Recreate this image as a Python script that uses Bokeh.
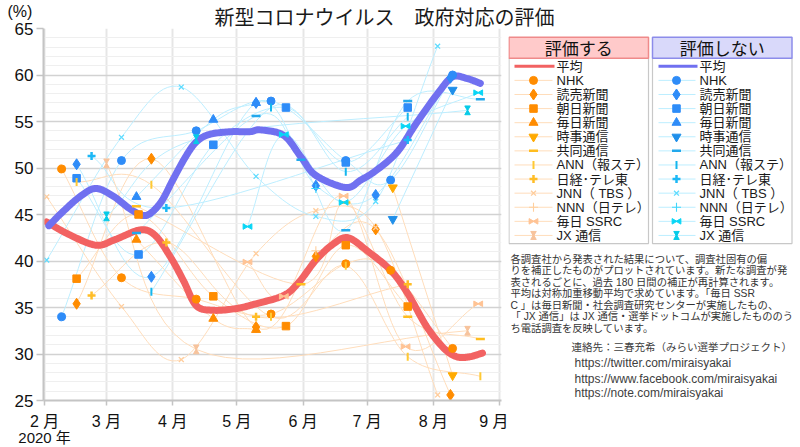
import numpy as np
import pandas as pd
from math import pi
from bokeh.plotting import figure
from bokeh.layouts import row, column
from bokeh.models import Range1d, FixedTicker, LinearAxis
from bokeh.core.properties import value
from bokeh.embed import file_html
from bokeh.resources import INLINE

# ------------------------------------------------------------------ data
month_ticks = ["2/1", "3/1", "4/1", "5/1", "6/1", "7/1", "8/1", "9/1"]
month_labels = ["2 月", "3 月", "4 月", "5 月", "6 月", "7 月", "8 月", "9 月"]
year_label = "2020 年"
y_ticks = [25, 30, 35, 40, 45, 50, 55, 60, 65]

avg_yes_dates = ["2/2", "2/12", "2/25", "3/5", "3/17", "3/24", "3/31", "4/6", "4/12", "4/20",
                 "5/1", "5/10", "5/23", "5/30", "6/7", "6/15", "6/22", "7/1", "7/12", "7/20",
                 "7/29", "8/6", "8/12", "8/18", "8/24"]
avg_yes = [44.2, 42.9, 41.7, 42.3, 43.35, 42.7, 40.4, 37.9, 35.2, 34.7,
           34.9, 35.4, 36.3, 37.7, 40.1, 41.8, 42.5, 41.1, 39.0, 36.5,
           32.9, 30.6, 29.7, 29.7, 30.1]
avg_no_dates = ["2/3", "2/10", "2/18", "2/25", "3/4", "3/12", "3/18", "3/22", "3/27", "4/1",
                "4/7", "4/12", "4/18", "4/28", "5/7", "5/12", "5/23", "5/31", "6/7", "6/21",
                "6/28", "7/5", "7/15", "7/24", "8/3", "8/10", "8/17", "8/23"]
avg_no = [43.8, 45.4, 47.0, 47.8, 47.0, 45.6, 44.9, 45.2, 46.5, 48.7,
          51.2, 52.8, 53.6, 53.9, 53.9, 54.1, 53.5, 51.2, 49.2, 47.9,
          48.7, 49.7, 51.7, 54.8, 58.0, 59.8, 59.6, 59.1]

houses = ["NHK", "読売新聞", "朝日新聞", "毎日新聞", "時事通信", "共同通信", "ANN（報ステ）",
          "日経･テレ東", "JNN（ TBS ）", "NNN（日テレ）", "毎日 SSRC", "JX 通信"]

nhk_yes_dates = ["2/9", "3/8", "4/12", "5/17", "6/21", "7/12", "8/10"]
nhk_yes = [49.9, 38.2, 35.9, 34.3, 39.7, 39.0, 30.6]
nhk_no_dates = ["2/9", "3/8", "4/12", "5/17", "6/21", "7/12", "8/10"]
nhk_no = [34.0, 50.8, 54.0, 57.2, 50.8, 48.7, 60.0]

yomiuri_yes_dates = ["2/16", "3/22", "5/10", "6/7", "7/5", "8/9"]
yomiuri_yes = [35.4, 51.0, 32.9, 40.5, 43.4, 25.6]
yomiuri_no_dates = ["2/16", "3/22", "5/10", "6/7", "7/5", "8/9"]
yomiuri_no = [50.4, 38.3, 57.0, 48.1, 47.1, 59.7]

asahi_yes_dates = ["2/16", "3/16", "4/20", "5/24", "6/21", "7/20"]
asahi_yes = [38.1, 45.0, 36.2, 33.0, 41.7, 35.1]
asahi_no_dates = ["2/16", "3/16", "4/20", "5/24", "6/21", "7/20"]
asahi_no = [48.9, 40.7, 52.5, 56.5, 50.6, 56.5]

mainichi_yes_dates = ["3/15", "4/20", "5/10"]
mainichi_yes = [42.3, 33.8, 32.6]
mainichi_no_dates = ["3/15", "4/20", "5/10"]
mainichi_no = [46.9, 55.2, 57.0]

jiji_yes_dates = ["7/13", "8/10"]
jiji_yes = [47.9, 27.7]
jiji_no_dates = ["7/13", "8/10"]
jiji_no = [44.5, 58.4]

kyodo_yes_dates = ["3/15", "5/31", "6/21", "7/20", "8/23"]
kyodo_yes = [45.9, 37.5, 46.3, 34.0, 31.6]
kyodo_no_dates = ["3/15", "5/10", "5/31", "6/21", "7/20", "8/23"]
kyodo_no = [43.0, 55.6, 50.9, 43.3, 57.2, 57.4]

ann_yes_dates = ["2/16", "3/22", "5/17", "6/21", "7/20", "8/23"]
ann_yes = [48.5, 48.2, 34.0, 39.5, 29.7, 27.6]
ann_no_dates = ["3/22", "5/17", "6/21", "7/20"]
ann_no = [36.7, 56.5, 49.6, 55.5]

nikkei_yes_dates = ["2/23", "3/29", "5/10", "7/20"]
nikkei_yes = [36.3, 42.0, 34.0, 37.5]
nikkei_no_dates = ["2/23", "3/29", "7/20"]
nikkei_no = [51.3, 45.7, 53.0]

jnn_yes_dates = ["2/2", "3/8", "4/5", "5/10", "6/7", "7/5", "8/3"]
jnn_yes = [46.9, 35.1, 29.4, 40.8, 45.4, 43.6, 25.6]
jnn_no_dates = ["2/2", "3/8", "4/5", "5/10", "6/7", "7/5", "8/3"]
jnn_no = [40.1, 53.3, 58.7, 49.1, 44.8, 46.4, 63.1]

nnn_yes_dates = ["6/7"]
nnn_yes = [41.1]
nnn_no_dates = ["6/7"]
nnn_no = [47.8]

ssrc_yes_dates = ["5/6", "5/23", "6/20", "7/19", "8/22"]
ssrc_yes = [39.9, 36.2, 47.0, 30.8, 35.4]
ssrc_no_dates = ["5/6", "5/23", "6/20", "7/19", "8/22"]
ssrc_no = [43.7, 53.6, 46.3, 54.5, 58.1]

jx_yes_dates = ["3/1", "4/12", "8/17"]
jx_yes = [50.5, 30.5, 32.5]
jx_no_dates = ["3/1", "4/12", "8/17"]
jx_no = [44.8, 53.1, 56.2]

title_text = "新型コロナウイルス　政府対応の評価"
unit_text = "(%)"
header_texts = ["評価する", "評価しない"]
avg_label = "平均"
note_lines = [
    "各調査社から発表された結果について、調査社固有の偏",
    "りを補正したものがプロットされています。新たな調査が発",
    "表されるごとに、過去 180 日間の補正が再計算されます。",
    "平均は対称加重移動平均で求めています。「毎日 SSR",
    "C 」は毎日新聞・社会調査研究センターが実施したもの、",
    "「 JX 通信」は JX 通信・選挙ドットコムが実施したもののう",
    "ち電話調査を反映しています。",
]
contact_lines = [
    "連絡先：三春充希（みらい選挙プロジェクト）",
    "https://twitter.com/miraisyakai",
    "https://www.facebook.com/miraisyakai",
    "https://note.com/miraisyakai",
]

series = [
    (nhk_yes_dates, nhk_yes, nhk_no_dates, nhk_no),
    (yomiuri_yes_dates, yomiuri_yes, yomiuri_no_dates, yomiuri_no),
    (asahi_yes_dates, asahi_yes, asahi_no_dates, asahi_no),
    (mainichi_yes_dates, mainichi_yes, mainichi_no_dates, mainichi_no),
    (jiji_yes_dates, jiji_yes, jiji_no_dates, jiji_no),
    (kyodo_yes_dates, kyodo_yes, kyodo_no_dates, kyodo_no),
    (ann_yes_dates, ann_yes, ann_no_dates, ann_no),
    (nikkei_yes_dates, nikkei_yes, nikkei_no_dates, nikkei_no),
    (jnn_yes_dates, jnn_yes, jnn_no_dates, jnn_no),
    (nnn_yes_dates, nnn_yes, nnn_no_dates, nnn_no),
    (ssrc_yes_dates, ssrc_yes, ssrc_no_dates, ssrc_no),
    (jx_yes_dates, jx_yes, jx_no_dates, jx_no),
]

# ------------------------------------------------------------------ styles
FONT_JP = "Liberation Sans, Noto Sans CJK JP"
FONT_CJK = "Noto Sans CJK JP"
YES_COL = ["#ff8c00", "#ff8c00", "#ff8c00", "#ff8c00", "#ffaa00", "#ffbd1f", "#ffc933",
           "#ffbd26", "#ffcd9c", "#ffcf9e", "#ffc394", "#f7c39c"]
NO_COL = ["#2e8cf8", "#2e8cf8", "#2e8cf8", "#2e8cf8", "#1f8fea", "#22a8ec", "#14b6ee",
          "#1cb8f6", "#5fdcff", "#3fd6fb", "#08d6f6", "#06cbe8"]
YES_LINE = "#ffddbb"
NO_LINE = "#bdeeff"
RED = "#f26262"
BLUE = "#7070f0"
MARKERS = [
    dict(marker="circle", size=8),
    dict(marker="diamond", size=11),
    dict(marker="square", size=7.5),
    dict(marker="triangle", size=9),
    dict(marker="inverted_triangle", size=9),
    dict(marker="dash", size=9, line_width=2.5),
    dict(marker="dash", size=8, angle=pi / 2, line_width=2),
    dict(marker="cross", size=8, line_width=2.5),
    dict(marker="x", size=7, line_width=1.3),
    dict(marker="cross", size=9, line_width=1.1),
    "bowtie",
    "hourglass",
]

BASE = pd.Timestamp("2020-02-01")


def days(dates):
    return [(pd.Timestamp("2020/" + d) - BASE).days for d in dates]


def smooth(xs, ys, n=14):
    x = np.asarray(xs, float)
    y = np.asarray(ys, float)
    if len(x) < 3:
        return x, y
    P = np.column_stack([x, y])
    pad = np.vstack([2 * P[0] - P[1], P, 2 * P[-1] - P[-2]])
    t = np.linspace(0, 1, n, endpoint=False)[:, None]
    out = []
    for i in range(len(P) - 1):
        p0, p1, p2, p3 = pad[i], pad[i + 1], pad[i + 2], pad[i + 3]
        out.append(0.5 * (2 * p1 + (-p0 + p2) * t + (2 * p0 - 5 * p1 + 4 * p2 - p3) * t ** 2
                          + (-p0 + 3 * p1 - 3 * p2 + p3) * t ** 3))
    out.append(P[-1:])
    Q = np.vstack(out)
    return Q[:, 0], Q[:, 1]


def draw_marker(fig, idx, xs, ys, color, dx, dy, tri=5.5):
    spec = MARKERS[idx]
    xs = list(xs)
    ys = list(ys)
    if not xs:
        return
    if spec == "bowtie":
        fig.scatter([x - dx for x in xs], ys, marker="triangle", angle=-pi / 2, size=tri,
                    fill_color=color, line_color=color)
        fig.scatter([x + dx for x in xs], ys, marker="triangle", angle=pi / 2, size=tri,
                    fill_color=color, line_color=color)
    elif spec == "hourglass":
        fig.scatter(xs, [y + dy for y in ys], marker="inverted_triangle", size=tri,
                    fill_color=color, line_color=color)
        fig.scatter(xs, [y - dy for y in ys], marker="triangle", size=tri,
                    fill_color=color, line_color=color)
    else:
        kw = dict(spec)
        fig.scatter(xs, ys, fill_color=color, line_color=color, **kw)


def blank(width, height):
    f = figure(width=width, height=height, x_range=Range1d(0, width), y_range=Range1d(height, 0),
               min_border=0, min_border_left=0, min_border_right=0, min_border_top=0,
               min_border_bottom=0, x_axis_location=None, y_axis_location=None,
               output_backend="svg", toolbar_location=None, outline_line_color=None,
               background_fill_color="white", background_fill_alpha=0,
               border_fill_color="white", border_fill_alpha=0)
    f.grid.visible = False
    return f


# ------------------------------------------------------------------ title strip
TOP_H = 31          # height of the title strip
ROW_TOP = 18        # page y where the plot row starts (overlaps the strip)
t = blank(800, TOP_H)
t.text(x=[384], y=[16], text=[title_text], text_align="center", text_baseline="middle",
       text_font=value(FONT_CJK), text_font_size="20px", text_color="#1a1a1a")
t.text(x=[7], y=[11], text=[unit_text], text_align="left", text_baseline="middle",
       text_font=value("Liberation Sans"), text_font_size="16px", text_color="#111111")

# ------------------------------------------------------------------ main plot
FW, FH = 458, 372
XR = (-0.5, 213.9)
YR = (25, 65)
px_x = FW / (XR[1] - XR[0])
px_y = FH / (YR[1] - YR[0])

p = figure(frame_width=FW, frame_height=FH, x_range=Range1d(*XR), y_range=Range1d(*YR),
           min_border_left=43, min_border_right=7, min_border_top=28 - ROW_TOP,
           min_border_bottom=47,
           output_backend="svg", toolbar_location=None, outline_line_color=None,
           background_fill_color="white", border_fill_color="white", border_fill_alpha=0)

mdays = days(month_ticks)
p.xaxis.ticker = FixedTicker(ticks=mdays)
p.xaxis.major_label_overrides = {d: lab for d, lab in zip(mdays, month_labels)}
p.yaxis.ticker = FixedTicker(ticks=y_ticks, minor_ticks=list(range(25, 66)))
for ax in (p.xaxis[0], p.yaxis[0]):
    ax.axis_line_color = "#c4c4c4"
    ax.axis_line_width = 2
    ax.major_tick_line_color = "#c4c4c4"
    ax.major_tick_line_width = 1.5
    ax.major_tick_in = 0
    ax.minor_tick_line_color = None
    ax.major_label_text_color = "#111111"
p.yaxis.major_tick_out = 7
p.yaxis.major_label_standoff = 3
p.yaxis.major_label_text_font = "Liberation Sans"
p.yaxis.major_label_text_font_size = "17px"
p.xaxis.major_tick_out = 5
p.xaxis.major_label_standoff = 7
p.xaxis.major_label_text_font = FONT_JP
p.xaxis.major_label_text_font_size = "16px"

year_axis = LinearAxis(ticker=FixedTicker(ticks=mdays[:1]),
                       major_label_overrides={mdays[0]: year_label},
                       axis_line_color=None, major_tick_line_color=None,
                       minor_tick_line_color=None, major_tick_out=0, major_tick_in=0,
                       major_label_standoff=-4, major_label_text_font=FONT_JP,
                       major_label_text_font_size="15px", major_label_text_color="#111111")
p.add_layout(year_axis, "below")

p.ygrid.grid_line_color = "#d2d2d2"
p.ygrid.grid_line_width = 1.3
p.ygrid.minor_grid_line_color = "#efefef"
p.xgrid.grid_line_color = "#e6e6e6"
p.xgrid.grid_line_width = 2

# faint house lines
for i, (yd, yv, nd, nv) in enumerate(series):
    if len(yv) > 1:
        sx, sy = smooth(days(yd), yv)
        p.line(sx, sy, color=YES_LINE, line_width=1)
    if len(nv) > 1:
        sx, sy = smooth(days(nd), nv)
        p.line(sx, sy, color=NO_LINE, line_width=1)

# averages
sx, sy = smooth(days(avg_yes_dates), avg_yes)
p.line(sx, sy, color=RED, line_width=7, line_cap="round", line_join="round")
sx, sy = smooth(days(avg_no_dates), avg_no)
p.line(sx, sy, color=BLUE, line_width=7, line_cap="round", line_join="round")

# house markers
for i, (yd, yv, nd, nv) in enumerate(series):
    draw_marker(p, i, days(yd), yv, YES_COL[i], 2.8 / px_x, 2.8 / px_y)
    draw_marker(p, i, days(nd), nv, NO_COL[i], 2.8 / px_x, 2.8 / px_y)

# ------------------------------------------------------------------ legend / notes panel
LW, LH = 800 - 508, 447 - ROW_TOP
OY = 28 - ROW_TOP   # page y 28 -> panel y OY
q = blank(LW, LH)

boxes_left = [0.5, 144]
boxes_right = [140, 283.5]
q.quad(left=boxes_left, right=boxes_right, top=[OY + 24.3] * 2, bottom=[OY + 238.7] * 2,
       fill_color="white", line_color="#c8c8c8", line_width=1.2)
q.quad(left=boxes_left, right=boxes_right, top=[OY] * 2, bottom=[OY + 24.3] * 2,
       fill_color=["#ffcaca", "#d9d9fa"], line_color=["#ef8a8a", "#8c8cea"], line_width=1.5)
q.text(x=[(boxes_left[0] + boxes_right[0]) / 2, (boxes_left[1] + boxes_right[1]) / 2],
       y=[OY + 12.3] * 2, text=header_texts, text_align="center",
       text_baseline="middle", text_font=value(FONT_CJK), text_font_size="17px",
       text_color="#111111")

row0 = OY + 33.7
rowh = 16.3
for side, (x0, xm, x1, xl, avg_col, col_list, line_col) in enumerate([
        (6, 25, 44, 48, RED, YES_COL, YES_LINE),
        (150, 168, 187, 191, BLUE, NO_COL, NO_LINE)]):
    q.segment(x0=[x0], y0=[row0], x1=[x1 + 2], y1=[row0], color=avg_col, line_width=3)
    ys_rows = [row0 + rowh * (k + 1) for k in range(len(houses))]
    q.segment(x0=[x0] * len(houses), y0=ys_rows, x1=[x1] * len(houses), y1=ys_rows,
              color=line_col, line_width=1)
    for k in range(len(houses)):
        draw_marker(q, k, [xm], [ys_rows[k]], col_list[k], 2.8, -2.8)
    q.text(x=[xl] * (len(houses) + 1), y=[row0] + ys_rows, text=[avg_label] + houses,
           text_align="left", text_baseline="middle", text_font=value(FONT_JP),
           text_font_size="13px", text_color="#1a1a1a")

q.text(x=[2] * len(note_lines), y=[OY + 257 + 13.3 * k for k in range(len(note_lines))],
       text=note_lines, text_align="left", text_baseline="middle",
       text_font=value(FONT_JP), text_font_size="10.3px", text_color="#333333")
q.text(x=[63], y=[OY + 358.7], text=contact_lines[:1], text_align="left",
       text_baseline="middle", text_font=value(FONT_JP), text_font_size="10.5px",
       text_color="#404040")
q.text(x=[66] * 3, y=[OY + 377, OY + 395, OY + 412], text=contact_lines[1:],
       text_align="left", text_baseline="middle", text_font=value("Liberation Sans"),
       text_font_size="12px", text_color="#404040")

body = row(p, q, spacing=0)
body.styles = {"margin-top": f"-{TOP_H - ROW_TOP}px"}
layout = column(t, body, spacing=0)
open("out.html", "w").write(file_html(layout, INLINE))
